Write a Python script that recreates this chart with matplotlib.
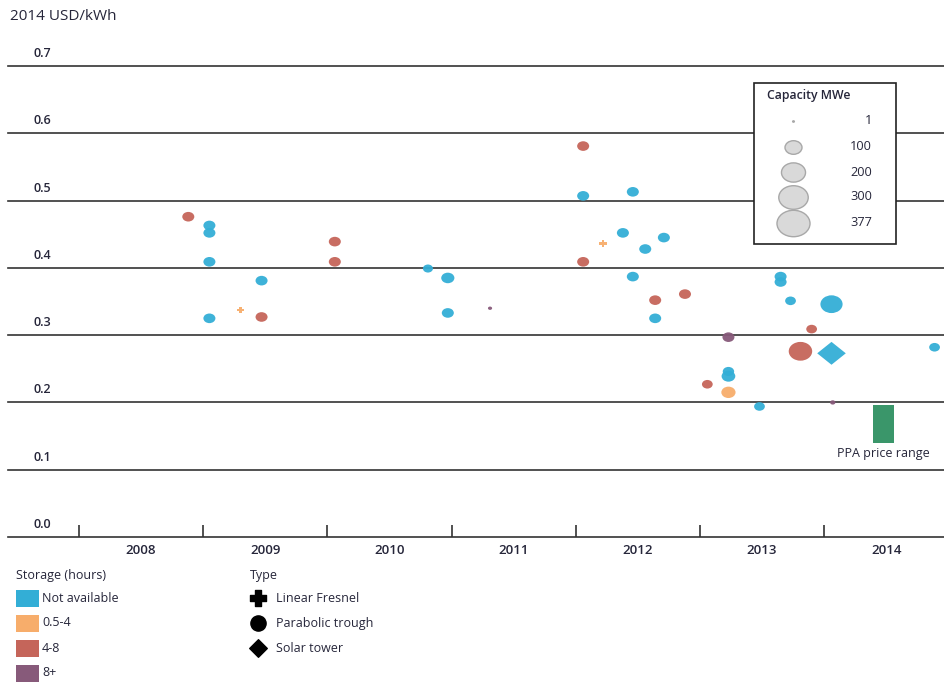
import matplotlib
matplotlib.use('Agg')
import matplotlib.pyplot as plt
from matplotlib.patches import Rectangle
from matplotlib.path import Path
import numpy as np

plt.rcParams['font.family'] = ['Open Sans', 'DejaVu Sans']

# ---------------- data ----------------
year = [2008.88, 2009.05, 2009.05, 2009.05, 2009.05, 2009.30, 2009.47, 2009.47,
        2010.06, 2010.06, 2010.81, 2010.97, 2010.97, 2011.31,
        2012.06, 2012.06, 2012.46, 2012.22, 2012.38, 2012.56, 2012.71, 2012.06,
        2012.46, 2012.64, 2012.88, 2012.64,
        2013.65, 2013.65, 2013.73, 2014.06, 2013.90, 2013.23, 2013.81, 2014.06,
        2014.89, 2013.23, 2013.23, 2013.06, 2013.23, 2013.48, 2014.07]
value = [0.476, 0.463, 0.452, 0.409, 0.325, 0.337, 0.381, 0.327,
         0.439, 0.409, 0.399, 0.385, 0.333, 0.340,
         0.581, 0.507, 0.513, 0.436, 0.452, 0.428, 0.445, 0.409,
         0.387, 0.352, 0.361, 0.325,
         0.387, 0.379, 0.351, 0.346, 0.309, 0.297, 0.276, 0.273,
         0.282, 0.246, 0.239, 0.227, 0.215, 0.194, 0.200]
storage = ['4-8', 'Not available', 'Not available', 'Not available', 'Not available', '0.5-4', 'Not available', '4-8',
           '4-8', '4-8', 'Not available', 'Not available', 'Not available', '8+',
           '4-8', 'Not available', 'Not available', '0.5-4', 'Not available', 'Not available', 'Not available', '4-8',
           'Not available', '4-8', '4-8', 'Not available',
           'Not available', 'Not available', 'Not available', 'Not available', '4-8', '8+', '4-8', 'Not available',
           'Not available', 'Not available', 'Not available', '4-8', '0.5-4', 'Not available', '8+']
ptype = ['Parabolic trough'] * 41
ptype[5] = 'Linear Fresnel'
ptype[17] = 'Linear Fresnel'
ptype[33] = 'Solar tower'
capacity = [50, 50, 50, 50, 50, 16, 50, 50,
            50, 50, 35, 60, 50, 6,
            50, 50, 50, 22, 50, 50, 50, 50,
            50, 50, 50, 50,
            50, 50, 40, 170, 40, 50, 190, 180,
            40, 45, 65, 40, 70, 40, 10]

ppa_year = 2014.48
ppa_low = 0.140
ppa_high = 0.196

year_labels = ['2008', '2009', '2010', '2011', '2012', '2013', '2014']
y_ticks = [0.0, 0.1, 0.2, 0.3, 0.4, 0.5, 0.6, 0.7]
legend_caps = [1, 100, 200, 300, 377]
storage_labels = ['Not available', '0.5-4', '4-8', '8+']
type_labels = ['Linear Fresnel', 'Parabolic trough', 'Solar tower']

# ---------------- style ----------------
colors = {'Not available': '#33AED6', '0.5-4': '#F7AD6B', '4-8': '#C5655A', '8+': '#875A7A'}
ppa_color = '#3A966A'
text_color = '#26263a'
line_color = '#333333'

ASPECT = 0.8
ell = Path.unit_circle()
ellipse_marker = Path(ell.vertices * np.array([1.0, ASPECT]), ell.codes)
diamond_marker = Path([(0, -ASPECT), (1, 0), (0, ASPECT), (-1, 0), (0, -ASPECT)],
                      [Path.MOVETO, Path.LINETO, Path.LINETO, Path.LINETO, Path.CLOSEPOLY])
pw = 0.33
plus_pts = [(-pw, -1), (pw, -1), (pw, -pw), (1, -pw), (1, pw), (pw, pw), (pw, 1), (-pw, 1),
            (-pw, pw), (-1, pw), (-1, -pw), (-pw, -pw), (-pw, -1)]
plus_marker = Path([(x, y * 0.9) for x, y in plus_pts],
                   [Path.MOVETO] + [Path.LINETO] * 11 + [Path.CLOSEPOLY])
markers = {'Linear Fresnel': plus_marker, 'Parabolic trough': ellipse_marker, 'Solar tower': diamond_marker}
area_factor = {'Linear Fresnel': 1.0, 'Parabolic trough': 1.0, 'Solar tower': np.pi / 2}


def size(c, t='Parabolic trough'):
    return 1.5 * c * area_factor[t]


W, H = 944, 686
fig = plt.figure(figsize=(W / 100, H / 100), dpi=100)
ax = fig.add_axes([8 / W, 1 - 537 / H, 936 / W, (537 - 66) / H])
ax.set_xlim(2007.428, 2014.966)
ax.set_ylim(0, 0.7)
for s in ax.spines.values():
    s.set_visible(False)
ax.set_yticks([])

for yt in y_ticks:
    ax.axhline(yt, color=line_color, lw=1.2, clip_on=False, zorder=1)
    ax.text(0.037, yt + 0.0185, f'{yt:.1f}', transform=ax.get_yaxis_transform(),
            ha='center', va='center', fontsize=9, color=text_color, fontweight='semibold')

ax.set_xticks(range(2008, 2015))
ax.set_xticklabels([''] * 7)
ax.tick_params(axis='x', which='major', direction='in', length=8.6, width=1.2, color=line_color)
ax.set_xticks([int(y) + 0.5 for y in year_labels], minor=True)
ax.set_xticklabels(year_labels, minor=True)
ax.tick_params(axis='x', which='minor', length=0, pad=5, labelsize=9.5, labelcolor=text_color)
for lab in ax.get_xticklabels(minor=True):
    lab.set_fontweight('semibold')

fig.text(10 / W, 1 - 17 / H, '2014 USD/kWh', ha='left', va='center', fontsize=11, color=text_color)

year_a = np.array(year)
value_a = np.array(value)
cap_a = np.array(capacity)
stor_a = np.array(storage)
type_a = np.array(ptype)
for t in type_labels:
    for st in storage_labels:
        m = (type_a == t) & (stor_a == st)
        if m.any():
            ax.scatter(year_a[m], value_a[m], s=size(cap_a[m], t), marker=markers[t],
                       color=colors[st], edgecolors='none', alpha=0.95, zorder=3, clip_on=False)

ax.bar(ppa_year, ppa_high - ppa_low, bottom=ppa_low, width=0.17, color=ppa_color, zorder=3)
ax.text(ppa_year, ppa_low - 0.006, 'PPA price range', ha='center', va='top', fontsize=9,
        color=text_color)

# ---------------- legends (pixel overlay) ----------------
lax = fig.add_axes([0, 0, 1, 1])
lax.set_xlim(0, W)
lax.set_ylim(H, 0)
lax.axis('off')
lax.set_zorder(5)

lax.add_patch(Rectangle((754, 83), 142, 161, fc='white', ec='#222222', lw=1.2))
lax.text(767, 96, 'Capacity MWe', ha='left', va='center', fontsize=8.8, color=text_color,
         fontweight='semibold')
for c, yc in zip(legend_caps, [121, 147, 172, 197, 223]):
    lax.scatter([793], [yc], s=size(c), marker=ellipse_marker, fc='#D9D9D9', ec='#A8A8A8', lw=1)
    lax.text(872, yc, str(c), ha='right', va='center', fontsize=9.2, color=text_color)

lax.text(16, 575, 'Storage (hours)', ha='left', va='center', fontsize=9, color=text_color)
for st, yc in zip(storage_labels, [598, 623, 648, 673]):
    lax.add_patch(Rectangle((16, yc - 8.5), 23, 17, fc=colors[st], ec='none'))
    lax.text(42, yc, st, ha='left', va='center', fontsize=9, color=text_color)

lax.text(250, 575, 'Type', ha='left', va='center', fontsize=9, color=text_color)
type_marker_legend = {'Linear Fresnel': 'P', 'Parabolic trough': 'o', 'Solar tower': 'D'}
type_marker_size = {'Linear Fresnel': 120, 'Parabolic trough': 120, 'Solar tower': 80}
for t, yc in zip(type_labels, [598, 623, 648]):
    lax.scatter([258], [yc], s=type_marker_size[t], marker=type_marker_legend[t], color='black')
    lax.text(276, yc, t, ha='left', va='center', fontsize=9, color=text_color)

fig.savefig('out.png', dpi=100)
